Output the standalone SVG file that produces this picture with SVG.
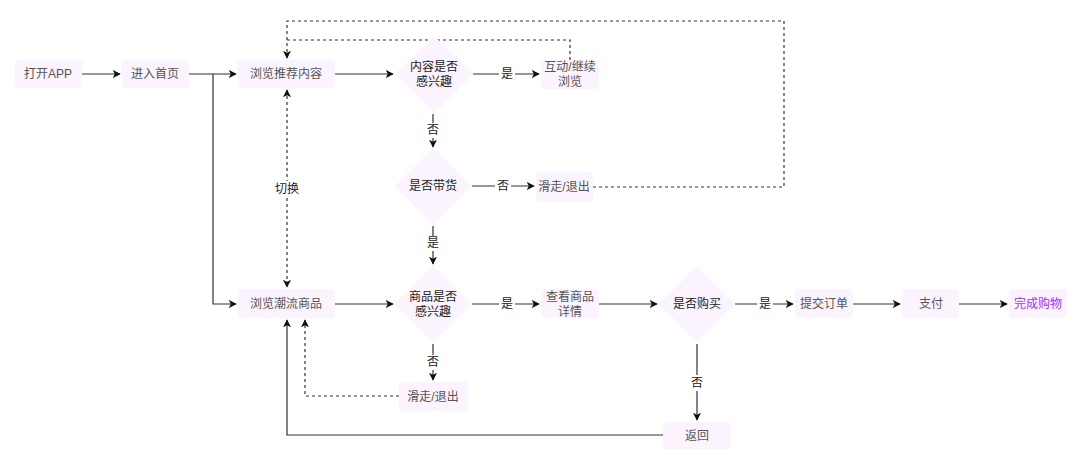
<svg xmlns="http://www.w3.org/2000/svg" width="1080" height="463" viewBox="0 0 1080 463">
<style>
.n{fill:#fbf3fe;stroke:none}
.t{font-family:"Liberation Sans","Noto Sans CJK SC",sans-serif;font-size:12px;fill:#555;text-anchor:middle;dominant-baseline:central}
.l{font-family:"Liberation Sans","Noto Sans CJK SC",sans-serif;font-size:12px;fill:#222;text-anchor:middle;dominant-baseline:central}
.c{fill:none;stroke:#333;stroke-width:1.2}
.d{fill:none;stroke:#333;stroke-width:1.2;stroke-dasharray:3 3}
.bg{fill:#fff}
</style>
<defs>
<marker id="a" viewBox="0 0 10 10" refX="9" refY="5" markerWidth="8" markerHeight="8" markerUnits="userSpaceOnUse" orient="auto-start-reverse"><path d="M0,0 L10,5 L0,10 L2.5,5 Z" fill="#111"/></marker>
</defs>
<rect width="1080" height="463" fill="#fff"/>
<g id="connectors">
<path class="c" d="M82,74 H120" marker-end="url(#a)"/>
<path class="c" d="M189,74 H236" marker-end="url(#a)"/>
<path class="c" d="M213,74 V304 H236" marker-end="url(#a)"/>
<path class="c" d="M335,74 H393" marker-end="url(#a)"/>
<path class="c" d="M473,74 H539" marker-end="url(#a)"/>
<path class="d" d="M570,60 V40 H287 V58" marker-end="url(#a)"/>
<path class="d" d="M593,187 H784 V21 H287 V40"/>
<path class="c" d="M433,114 V147" marker-end="url(#a)"/>
<path class="c" d="M472,186 H534" marker-end="url(#a)"/>
<path class="c" d="M433,226 V264" marker-end="url(#a)"/>
<path class="d" d="M287,90 V287" marker-start="url(#a)" marker-end="url(#a)"/>
<path class="c" d="M335,304 H393" marker-end="url(#a)"/>
<path class="c" d="M433,344 V380" marker-end="url(#a)"/>
<path class="d" d="M399,396 H305 V320" marker-end="url(#a)"/>
<path class="c" d="M663,435 H287 V320" marker-end="url(#a)"/>
<path class="c" d="M472,304 H539" marker-end="url(#a)"/>
<path class="c" d="M599,304 H657" marker-end="url(#a)"/>
<path class="c" d="M697,344 V420" marker-end="url(#a)"/>
<path class="c" d="M735,304 H793" marker-end="url(#a)"/>
<path class="c" d="M853,304 H900" marker-end="url(#a)"/>
<path class="c" d="M959,304 H1007" marker-end="url(#a)"/>
<rect class="bg" x="499" y="66" width="16" height="16"/><text class="l" x="507" y="74">是</text>
<rect class="bg" x="425" y="123" width="16" height="15"/><text class="l" x="433" y="130">否</text>
<rect class="bg" x="495" y="178" width="16" height="16"/><text class="l" x="503" y="186">否</text>
<rect class="bg" x="425" y="236" width="16" height="15"/><text class="l" x="433" y="243">是</text>
<rect class="bg" x="274" y="181" width="26" height="16"/><text class="l" x="287" y="189">切换</text>
<rect class="bg" x="499" y="296" width="16" height="16"/><text class="l" x="507" y="304">是</text>
<rect class="bg" x="425" y="355" width="16" height="15"/><text class="l" x="433" y="362">否</text>
<rect class="bg" x="689" y="375" width="16" height="16"/><text class="l" x="697" y="383">否</text>
<rect class="bg" x="757" y="296" width="16" height="16"/><text class="l" x="765" y="304">是</text>
</g>
<g id="n1"><rect class="n" x="15" y="60" width="67" height="28" rx="4"/><text class="t" x="48" y="74">打开APP</text></g>
<g id="n2"><rect class="n" x="122" y="60" width="67" height="28" rx="4"/><text class="t" x="155" y="74">进入首页</text></g>
<g id="n3"><rect class="n" x="238" y="60" width="97" height="28" rx="4"/><text class="t" x="286" y="74">浏览推荐内容</text></g>
<g id="n4"><path class="n" d="M434,36 L473,74 L434,113 L395,74 Z"/><text class="l" x="434" y="67">内容是否</text><text class="l" x="434" y="82">感兴趣</text></g>
<g id="n5"><rect class="n" x="541" y="60" width="58" height="29" rx="4"/><text class="t" x="570" y="67">互动/继续</text><text class="t" x="570" y="82">浏览</text></g>
<g id="n6"><path class="n" d="M433,148 L472,186 L433,225 L395,186 Z"/><text class="l" x="433" y="186">是否带货</text></g>
<g id="n7"><rect class="n" x="536" y="172" width="57" height="30" rx="4"/><text class="t" x="564" y="187">滑走/退出</text></g>
<g id="n8"><rect class="n" x="238" y="289" width="97" height="29" rx="4"/><text class="t" x="286" y="304">浏览潮流商品</text></g>
<g id="n9"><path class="n" d="M433,265 L472,304 L433,342 L395,304 Z"/><text class="l" x="433" y="297">商品是否</text><text class="l" x="433" y="312">感兴趣</text></g>
<g id="n10"><rect class="n" x="399" y="382" width="69" height="29" rx="4"/><text class="t" x="433" y="397">滑走/退出</text></g>
<g id="n11"><rect class="n" x="541" y="289" width="58" height="29" rx="4"/><text class="t" x="570" y="297">查看商品</text><text class="t" x="570" y="312">详情</text></g>
<g id="n12"><path class="n" d="M697,266 L735,304 L697,342 L659,304 Z"/><text class="l" x="697" y="304">是否购买</text></g>
<g id="n13"><rect class="n" x="663" y="422" width="68" height="27" rx="4"/><text class="t" x="697" y="436">返回</text></g>
<g id="n14"><rect class="n" x="795" y="289" width="58" height="29" rx="4"/><text class="t" x="824" y="304">提交订单</text></g>
<g id="n15"><rect class="n" x="902" y="289" width="57" height="29" rx="4"/><text class="t" x="931" y="304">支付</text></g>
<g id="n16"><rect class="n" x="1009" y="289" width="58" height="29" rx="4"/><text class="t" x="1038" y="304" style="fill:#9933ff">完成购物</text></g>
</svg>
